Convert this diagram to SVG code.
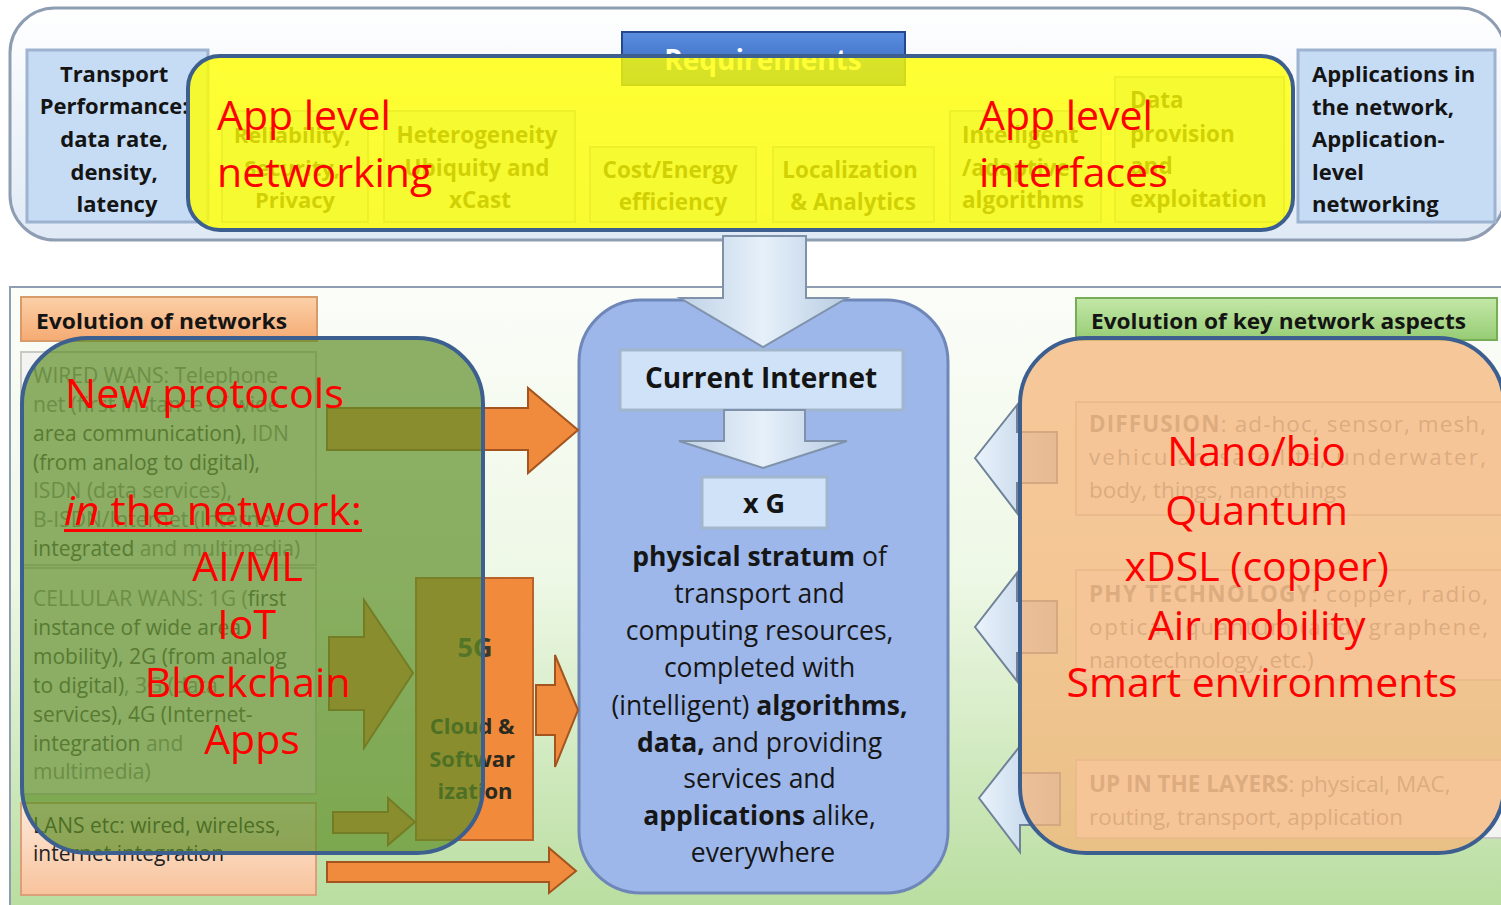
<svg xmlns="http://www.w3.org/2000/svg" width="1501" height="905" viewBox="0 0 1501 905">
<defs>
<style>
text{font-family:"Open Sans","Liberation Sans",sans-serif}
.b{font-weight:700}
.dk{fill:#141414}
.red{fill:#ff0000;font-size:41px}
.bluebox{fill:#c6dcf4;stroke:#9db3cf;stroke-width:3}
.inner{fill:#cfe2f7;stroke:#a2b6ce;stroke-width:3}
.req{fill:#d2e3f6;stroke:#aabbd0;stroke-width:2}
.oarrow{fill:#f08a3c;stroke:#a4541e;stroke-width:2}
.barrow{fill:url(#gBlueArrow);stroke:#6f8298;stroke-width:2}
.gpanel{fill:#f3f3f1;stroke:#c9c9c4;stroke-width:2}
.wt{font-size:21px;fill:#8c8c8c}
.wd{fill:#4a4a4a}
.rt{font-size:22.5px;fill:#8e8e8e}
.ov{stroke:#3d5f90;stroke-width:4}
</style>
<linearGradient id="gTop" x1="0" y1="0" x2="0" y2="1">
<stop offset="0" stop-color="#ffffff"/><stop offset="1" stop-color="#dfe9f5"/>
</linearGradient>
<linearGradient id="gMid" x1="0" y1="0" x2="0" y2="1">
<stop offset="0" stop-color="#fbfdf9"/><stop offset="0.45" stop-color="#eef8e6"/><stop offset="1" stop-color="#b6dc9c"/>
</linearGradient>
<linearGradient id="gReq" x1="0" y1="0" x2="0" y2="1">
<stop offset="0" stop-color="#5a8ee0"/><stop offset="1" stop-color="#2f5fb4"/>
</linearGradient>
<linearGradient id="gOrTab" x1="0" y1="0" x2="0" y2="1">
<stop offset="0" stop-color="#fbd0a8"/><stop offset="1" stop-color="#f5aa72"/>
</linearGradient>
<linearGradient id="gGrTab" x1="0" y1="0" x2="0" y2="1">
<stop offset="0" stop-color="#c4e8a8"/><stop offset="1" stop-color="#96cc74"/>
</linearGradient>
<linearGradient id="gLan" x1="0" y1="0" x2="0" y2="1">
<stop offset="0" stop-color="#fdeadb"/><stop offset="1" stop-color="#f8c39c"/>
</linearGradient>
<linearGradient id="gBlueArrow" x1="0" y1="0" x2="1" y2="0">
<stop offset="0" stop-color="#eaf3fc"/><stop offset="1" stop-color="#b4cae2"/>
</linearGradient>
<linearGradient id="gDown" x1="0" y1="0" x2="1" y2="0">
<stop offset="0" stop-color="#c0d2e6"/><stop offset="0.5" stop-color="#e6f0fa"/><stop offset="1" stop-color="#b8cce2"/>
</linearGradient>
</defs>

<!-- background panels -->
<g id="top-band">
<rect x="10" y="8" width="1495" height="232" rx="45" fill="url(#gTop)" stroke="#8e9db2" stroke-width="3"/>
</g>
<g id="bottom-panel">
<rect x="10" y="287" width="1530" height="640" fill="url(#gMid)" stroke="#8e9db2" stroke-width="2"/>
</g>

<!-- top band nodes -->
<g id="requirements">
<rect x="622" y="32" width="283" height="53" fill="url(#gReq)" stroke="#23488c" stroke-width="2"/>
<text x="763" y="70" text-anchor="middle" class="b" font-size="28" fill="#ffffff">Requirements</text>
</g>
<g id="transport-performance">
<rect x="27" y="50" width="181" height="172" class="bluebox"/>
<text class="b dk" font-size="22" text-anchor="middle">
<tspan x="117" y="82">Transport</tspan>
<tspan x="117" y="114">Performance:</tspan>
<tspan x="117" y="147">data rate,</tspan>
<tspan x="117" y="180">density,</tspan>
<tspan x="117" y="212">latency</tspan>
</text>
</g>
<g id="reliability">
<rect x="222" y="111" width="146" height="111" class="req"/>
<text class="b dk" font-size="22" text-anchor="middle">
<tspan x="295" y="143">Reliability,</tspan>
<tspan x="295" y="176">Security,</tspan>
<tspan x="295" y="208">Privacy</tspan>
</text>
</g>
<g id="heterogeneity">
<rect x="384" y="111" width="191" height="111" class="req"/>
<text class="b dk" font-size="22.5" text-anchor="middle">
<tspan x="480" y="143">Heterogeneity</tspan>
<tspan x="480" y="176">Ubiquity and</tspan>
<tspan x="480" y="208">xCast</tspan>
</text>
</g>
<g id="cost-energy">
<rect x="590" y="147" width="166" height="75" class="req"/>
<text class="b dk" font-size="22.5" text-anchor="middle">
<tspan x="673" y="178">Cost/Energy</tspan>
<tspan x="673" y="210">efficiency</tspan>
</text>
</g>
<g id="localization">
<rect x="773" y="147" width="161" height="75" class="req"/>
<text class="b dk" font-size="22.5" text-anchor="middle">
<tspan x="853" y="178">Localization</tspan>
<tspan x="853" y="210">&amp; Analytics</tspan>
</text>
</g>
<g id="intelligent">
<rect x="950" y="111" width="151" height="111" class="req"/>
<text class="b dk" font-size="22.5">
<tspan x="962" y="143">Intelligent</tspan>
<tspan x="962" y="176">/adaptive</tspan>
<tspan x="962" y="208">algorithms</tspan>
</text>
</g>
<g id="data-provision">
<rect x="1115" y="77" width="169" height="145" class="req"/>
<text class="b dk" font-size="22.5">
<tspan x="1130" y="108">Data</tspan>
<tspan x="1130" y="142">provision</tspan>
<tspan x="1130" y="174">and</tspan>
<tspan x="1130" y="207">exploitation</tspan>
</text>
</g>
<g id="applications-in-network">
<rect x="1298" y="50" width="197" height="172" class="bluebox"/>
<text class="b dk" font-size="22">
<tspan x="1312" y="82">Applications in</tspan>
<tspan x="1312" y="115">the network,</tspan>
<tspan x="1312" y="147">Application-</tspan>
<tspan x="1312" y="180">level</tspan>
<tspan x="1312" y="212">networking</tspan>
</text>
</g>

<!-- left column nodes -->
<g id="evolution-of-networks">
<rect x="21" y="297" width="296" height="44" fill="url(#gOrTab)" stroke="#d89a68" stroke-width="2"/>
<text x="36" y="329" class="b dk" font-size="21" textLength="251" lengthAdjust="spacingAndGlyphs">Evolution of networks</text>
</g>
<g id="wired-wans">
<rect x="21" y="352" width="295" height="213" class="gpanel"/>
<text class="wt">
<tspan x="33" y="383">WIRED WANS: Telephone</tspan>
<tspan x="33" y="412">net (first instance of wide</tspan>
<tspan x="33" y="441" class="wd">area communication), <tspan class="wt">IDN</tspan></tspan>
<tspan x="33" y="470" class="wd">(from analog to digital),</tspan>
<tspan x="33" y="498">ISDN (data services),</tspan>
<tspan x="33" y="527">B-ISDN/Internet (Internet-</tspan>
<tspan x="33" y="556"><tspan class="wd">integrated</tspan> and multimedia)</tspan>
</text>
</g>
<g id="cellular-wans">
<rect x="21" y="568" width="295" height="226" class="gpanel"/>
<text class="wt">
<tspan x="33" y="606">CELLULAR WANS: 1G (<tspan class="wd">first</tspan></tspan>
<tspan x="33" y="635" class="wd">instance of wide area</tspan>
<tspan x="33" y="664" class="wd">mobility), 2G (from analog</tspan>
<tspan x="33" y="693"><tspan class="wd">to digital)</tspan>, 3G (data</tspan>
<tspan x="33" y="722" class="wd">services), 4G (Internet-</tspan>
<tspan x="33" y="751"><tspan class="wd">integration</tspan> and</tspan>
<tspan x="33" y="779">multimedia)</tspan>
</text>
</g>
<g id="lans">
<rect x="21" y="803" width="295" height="92" fill="url(#gLan)" stroke="#d9a07a" stroke-width="2"/>
<text font-size="21" fill="#222">
<tspan x="33" y="833">LANS etc: wired, wireless,</tspan>
<tspan x="33" y="861">internet integration</tspan>
</text>
</g>
<g id="five-g">
<rect x="416" y="578" width="117" height="262" fill="#f28a3c" stroke="#b9632a" stroke-width="2"/>
<text x="475" y="657" text-anchor="middle" class="b" font-size="27" fill="#3a3a2a">5G</text>
<text class="b" font-size="22" fill="#2a2a20" text-anchor="middle">
<tspan x="475" y="734">Cloud &amp;</tspan>
<tspan x="475" y="767">Softwar</tspan>
<tspan x="475" y="799">ization</tspan>
</text>
</g>

<!-- center node -->
<g id="center">
<rect x="579" y="300" width="369" height="593" rx="62" fill="#9db7ea" stroke="#6f87b8" stroke-width="3"/>
</g>
<g id="current-internet">
<rect x="620" y="350" width="283" height="60" class="inner"/>
<text x="761" y="388" text-anchor="middle" class="b dk" font-size="28">Current Internet</text>
</g>
<g id="xg">
<rect x="702" y="477" width="125" height="51" class="inner"/>
<text x="764" y="513" text-anchor="middle" class="b dk" font-size="27">x G</text>
</g>
<g id="center-text">
<text font-size="26.5" fill="#161616" text-anchor="middle">
<tspan x="763" y="566"><tspan class="b">physical stratum</tspan> of</tspan>
<tspan x="763" y="603">transport and</tspan>
<tspan x="763" y="640">computing resources,</tspan>
<tspan x="763" y="677">completed with</tspan>
<tspan x="763" y="715">(intelligent) <tspan class="b">algorithms,</tspan></tspan>
<tspan x="763" y="752"><tspan class="b">data,</tspan> and providing</tspan>
<tspan x="763" y="788">services and</tspan>
<tspan x="763" y="825"><tspan class="b">applications</tspan> alike,</tspan>
<tspan x="763" y="862">everywhere</tspan>
</text>
</g>

<!-- right column nodes -->
<g id="evolution-key-aspects">
<rect x="1076" y="298" width="421" height="42" fill="url(#gGrTab)" stroke="#78ad58" stroke-width="2"/>
<text x="1091" y="329" class="b dk" font-size="21" textLength="375" lengthAdjust="spacingAndGlyphs">Evolution of key network aspects</text>
</g>
<g id="diffusion">
<rect x="1076" y="402" width="440" height="113" class="gpanel"/>
<text class="rt">
<tspan x="1089" y="432" textLength="397" lengthAdjust="spacing"><tspan class="b">DIFFUSION</tspan>: ad-hoc, sensor, mesh,</tspan>
<tspan x="1089" y="465" textLength="397" lengthAdjust="spacing">vehicular, satellite, underwater,</tspan>
<tspan x="1089" y="498">body, things, nanothings</tspan>
</text>
</g>
<g id="phy-technology">
<rect x="1076" y="570" width="440" height="110" class="gpanel"/>
<text class="rt">
<tspan x="1089" y="602" textLength="399" lengthAdjust="spacing"><tspan class="b">PHY TECHNOLOGY</tspan>: copper, radio,</tspan>
<tspan x="1089" y="635" textLength="399" lengthAdjust="spacing">optical, quantum (and) graphene,</tspan>
<tspan x="1089" y="668">nanotechnology, etc.)</tspan>
</text>
</g>
<g id="up-layers">
<rect x="1076" y="760" width="440" height="78" class="gpanel"/>
<text class="rt">
<tspan x="1089" y="792"><tspan class="b">UP IN THE LAYERS</tspan>: physical, MAC,</tspan>
<tspan x="1089" y="825">routing, transport, application</tspan>
</text>
</g>

<!-- connectors -->
<g id="connectors">
<polygon points="723,236 806,236 806,298 847,298 763,347 680,298 723,298" fill="url(#gDown)" stroke="#7f92aa" stroke-width="2"/>
<polygon points="724,410 805,410 805,441 847,441 763,468 679,441 724,441" fill="url(#gDown)" stroke="#7f92aa" stroke-width="2"/>
<polygon class="oarrow" points="327,408 528,408 528,388 578,430 528,473 528,450 327,450"/>
<polygon class="oarrow" points="329,637 364,637 364,600 413,673 364,748 364,710 329,710"/>
<polygon class="oarrow" points="333,812 388,812 388,798 415,822 388,845 388,833 333,833"/>
<polygon class="oarrow" points="536,685 555,685 555,655 578,710 555,767 555,735 536,735"/>
<polygon class="oarrow" points="327,862 549,862 549,848 576,871 549,893 549,882 327,882"/>
<polygon class="barrow" points="975,458 1017,405 1017,432 1057,432 1057,483 1017,483 1017,513"/>
<polygon class="barrow" points="975,627 1017,573 1017,601 1057,601 1057,653 1017,653 1017,681"/>
<polygon class="barrow" points="979,798 1020,746 1020,773 1060,773 1060,825 1020,825 1020,852"/>
</g>

<!-- highlight overlays -->
<g id="app-level-overlay">
<rect x="188" y="56" width="1105" height="174" rx="32" fill="#ffff00" fill-opacity="0.8" class="ov"/>
<text class="red" font-size="42"><tspan x="217" y="130">App level</tspan><tspan x="217" y="187">networking</tspan></text>
<text class="red" font-size="42"><tspan x="979" y="130">App level</tspan><tspan x="979" y="187">interfaces</tspan></text>
</g>
<g id="new-protocols-overlay">
<rect x="22" y="338" width="461" height="515" rx="66" fill="#5e8f28" fill-opacity="0.7" class="ov"/>
<text class="red" x="65" y="408" textLength="279" lengthAdjust="spacingAndGlyphs">New protocols</text>
<text class="red" x="64" y="525" textLength="298" lengthAdjust="spacingAndGlyphs"><tspan font-style="italic">in</tspan> the network:</text>
<rect x="64" y="529" width="298" height="3" fill="#ff0000"/>
<text class="red" text-anchor="middle">
<tspan x="253" y="581">AI/ML</tspan>
<tspan x="252" y="639">IoT</tspan>
<tspan x="253" y="697">Blockchain</tspan>
<tspan x="252" y="754">Apps</tspan>
</text>
</g>
<g id="nano-overlay">
<rect x="1020" y="338" width="484" height="515" rx="66" fill="#f5b67a" fill-opacity="0.75" class="ov"/>
<text class="red" text-anchor="middle">
<tspan x="1262" y="466">Nano/bio</tspan>
<tspan x="1262" y="525">Quantum</tspan>
<tspan x="1262" y="581">xDSL (copper)</tspan>
<tspan x="1262" y="640">Air mobility</tspan>
<tspan x="1262" y="697">Smart environments</tspan>
</text>
</g>
</svg>
